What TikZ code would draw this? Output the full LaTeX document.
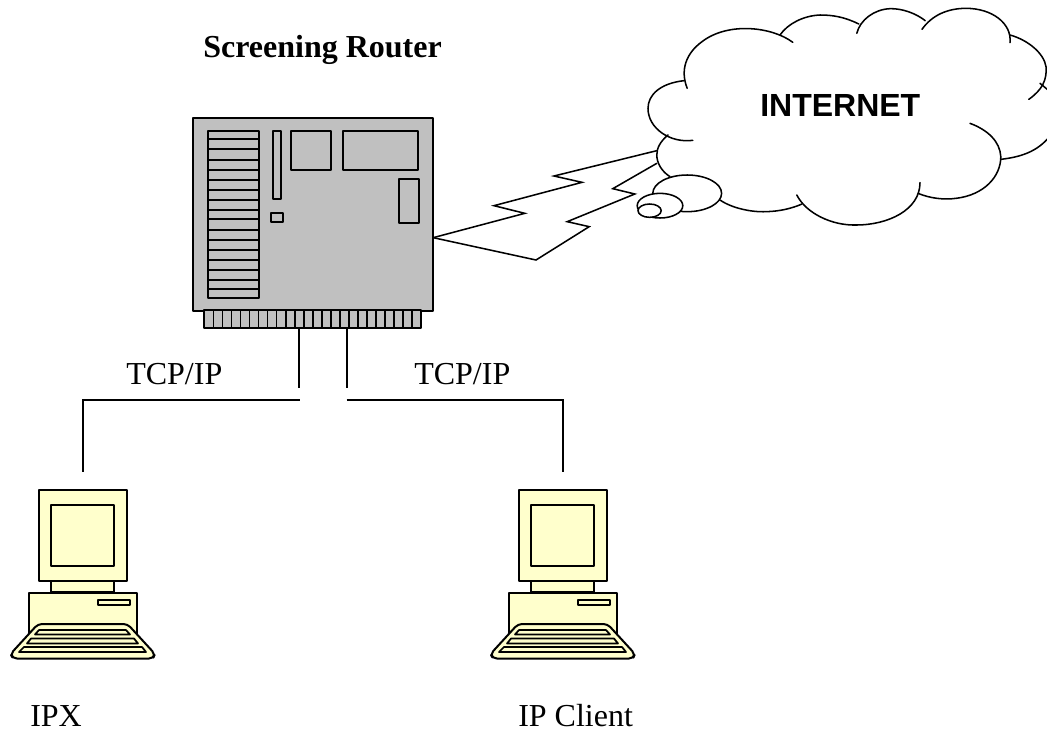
\documentclass[tikz,border=0pt]{standalone}
\usepackage{fontspec}
\setmainfont{Liberation Serif}
\newfontfamily\arialfont{Liberation Sans}
\definecolor{crt}{HTML}{FFFFCC}
\definecolor{board}{HTML}{C0C0C0}
\tikzset{
  part/.style={draw=black,line width=1.5pt,line join=round},
  comp/.style={part,fill=crt},
  link/.style={draw=black,line width=1.25pt},
  cloudline/.style={draw=black,line width=1.15pt,line cap=round},
  lbl/.style={font=\fontsize{24}{28}\selectfont,inner sep=0pt,anchor=base west},
  pics/computer/.style={code={
    \draw[comp] (51,581) rectangle (114,592);
    \draw[comp] (29,592.5) rectangle (136.5,640);
    \draw[comp] (39,490) rectangle (127,581);
    \draw[comp] (51.3,505) rectangle (114,566);
    \draw[comp] (98,600) rectangle (129.5,605);
    \draw[comp,rounded corners=3pt] (38,624) -- (127.5,624) -- (155,654) -- (153,658.5) -- (13,658.5) -- (10.5,654) -- cycle;
    \draw[comp,line width=1.3pt] (39,630) -- (126,630) -- (130,634.5) -- (35,634.5) -- cycle;
    \draw[comp,line width=1.3pt] (31,638.5) -- (134,638.5) -- (138,643.5) -- (27,643.5) -- cycle;
    \draw[comp,line width=1.3pt] (24,647) -- (142,647) -- (146,652) -- (19,652) -- cycle;
  }}
}
\begin{document}
\begin{tikzpicture}[x=0.75pt,y=-0.75pt]
\useasboundingbox (0,0) rectangle (1047,729);
\clip (0,0) rectangle (1047,729);
% router
\node[part,fill=board,minimum width=180pt,minimum height=144.6pt,inner sep=0pt,anchor=north west] (router) at (191.7,116.7) {};
\begin{scope}[shift={(180,105)},x=0.25pt,y=-0.25pt]
\foreach \i in {0,...,23} {
  \draw[part,fill=board,line width=1.3pt] ({73+\i*27.1},615) rectangle ({73+(\i+1)*27.1},668);
}
\draw[part] (85,78) rectangle (237,580);
\foreach \y in {103,133,164,195,224,254,284,314,343,374,405,434,465,494,524,553} {
  \draw[part] (85,\y) -- (237,\y);
}
\draw[part] (279,78) rectangle (302,281);
\draw[part] (333,78) rectangle (452,194);
\draw[part] (489,78) rectangle (713,194);
\draw[part] (656,223) rectangle (718,355);
\draw[part] (273,324) rectangle (308,351);
\end{scope}
% lightning
\begin{scope}[shift={(420,0)},x=0.3pt,y=-0.25pt]
\coordinate (boltstart) at (33,713);
\draw[cloudline,line join=miter] (boltstart) -- (262,640) -- (185,617) -- (405,547) -- (335,528) -- (592,452);
\draw[cloudline,line join=miter] (boltstart) -- (290,780) -- (423,680) -- (368,665) -- (537,582) -- (482,566) -- (592,490);
% cloud
\draw[cloudline] (932,127) .. controls (880,80) and (770,65) .. (705,125) .. controls (665,160) and (650,210) .. (668,265);
\draw[cloudline] (660,242) .. controls (600,250) and (570,285) .. (570,325) .. controls (570,385) and (625,430) .. (682,421);
\draw[cloudline] (620,405) .. controls (600,425) and (592,445) .. (592,465) .. controls (592,490) and (605,515) .. (625,530);
\draw[cloudline] (750,600) .. controls (780,625) and (830,637) .. (865,635) .. controls (900,634) and (930,625) .. (955,612);
\draw[cloudline] (942,585) .. controls (965,640) and (1030,677) .. (1090,675) .. controls (1170,675) and (1250,630) .. (1250,548);
\draw[cloudline] (1245,580) .. controls (1275,595) and (1310,600) .. (1340,595) .. controls (1410,585) and (1452,530) .. (1452,470) .. controls (1450,425) and (1420,390) .. (1375,370);
\draw[cloudline] (1452,478) .. controls (1510,470) and (1550,450) .. (1580,400);
\draw[cloudline] (1522,298) .. controls (1555,270) and (1568,240) .. (1565,200) .. controls (1560,160) and (1520,120) .. (1475,105);
\draw[cloudline] (1550,250) .. controls (1565,265) and (1575,275) .. (1590,290);
\draw[cloudline] (1475,128) .. controls (1480,70) and (1430,25) .. (1365,25) .. controls (1320,25) and (1280,45) .. (1255,88);
\draw[cloudline] (1263,62) .. controls (1240,40) and (1205,25) .. (1175,26) .. controls (1135,28) and (1100,60) .. (1092,100);
\draw[cloudline] (1097,72) .. controls (1060,50) and (1030,45) .. (1000,45) .. controls (960,47) and (920,70) .. (900,105);
% thought bubbles
\draw[cloudline,fill=white] (668,580) ellipse [x radius=86,y radius=55];
\draw[cloudline,fill=white] (600,617) ellipse [x radius=57,y radius=37];
\draw[cloudline,fill=white] (574,632) ellipse [x radius=29,y radius=20];
\end{scope}
% computers
\pic {computer};
\pic at (480,0) {computer};
% connectors
\coordinate (ltop) at (299,328);
\coordinate (lend) at (299,388);
\coordinate (lbranch) at (299.5,400.2);
\coordinate (lhost) at (83,472);
\coordinate (rtop) at (347,328);
\coordinate (rend) at (347,388);
\coordinate (rbranch) at (346.5,400.2);
\coordinate (rhost) at (563,472);
\draw[link] (ltop) -- (lend);
\draw[link] (rtop) -- (rend);
\draw[link] (lbranch) -| (lhost);
\draw[link] (rbranch) -| (rhost);
% labels
\node[lbl,font=\fontsize{24}{28}\selectfont\bfseries] (title) at (203,57) {Screening Router};
\node[lbl,font=\fontsize{24}{28}\selectfont\arialfont\bfseries] (inet) at (760,116) {INTERNET};
\node[lbl] (t1) at (126,384) {TCP/IP};
\node[lbl] (t2) at (414,384) {TCP/IP};
\node[lbl] (ipx) at (30,726) {IPX};
\node[lbl] (ipc) at (518,726) {IP Client};
\end{tikzpicture}
\end{document}
